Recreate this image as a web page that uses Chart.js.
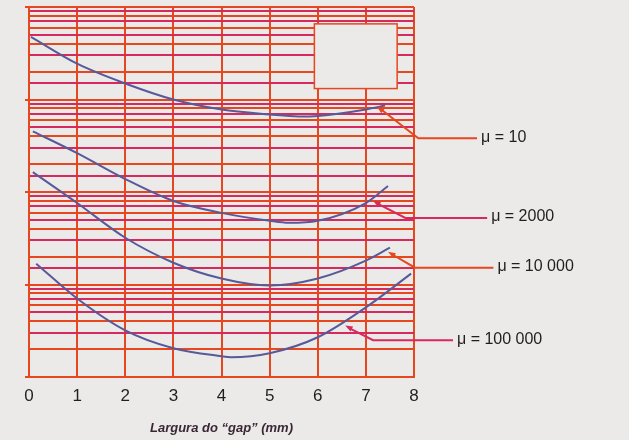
<!DOCTYPE html>
<html>
<head>
<meta charset="utf-8">
<script src="https://cdn.jsdelivr.net/npm/chart.js@4"></script>
<style>
  html, body { margin: 0; padding: 0; background: #ebeae8; }
  #wrap { width: 629px; height: 440px; }
</style>
</head>
<body>
<div id="wrap"><canvas id="gapChart" width="629" height="440"></canvas></div>
<script>
// x ticks (gap width, mm)
var xTicks = [0, 1, 2, 3, 4, 5, 6, 7, 8];

// curves (y is log scale, no labels)
var gap10 = [0.04, 1, 2, 3, 4, 5, 5.6, 6, 7, 7.4];
var mu10 = [4760, 2440, 1490, 1000, 780, 690, 656, 665, 780, 862];

var gap2000 = [0.08, 1, 2, 3, 4, 5, 5.4, 6, 7, 7.46];
var mu2000 = [453, 263, 138, 80, 59.5, 48.8, 46.4, 48.8, 76, 116];

var gap10k = [0.08, 1, 2, 3, 4, 5, 6, 7, 7.5];
var mu10k = [164, 76, 32, 17.2, 11.6, 9.76, 11.6, 18.1, 25];

var gap100k = [0.15, 1, 2, 3, 4, 4.2, 5, 6, 7, 7.94];
var mu100k = [16.8, 7.07, 3.2, 2.05, 1.68, 1.64, 1.81, 2.69, 5.66, 13.1];

// callout labels: text, arrow tip on curve, elbow, end of the line
var calloutText = ['\u03bc = 10', '\u03bc = 2000', '\u03bc = 10 000', '\u03bc = 100 000'];
var calloutTipX = [7.23, 7.15, 7.46, 6.57];
var calloutTipY = [841, 80, 22.6, 3.6];
var calloutElbowX = [8.09, 7.82, 8.02, 7.15];
var calloutElbowY = [381, 52.5, 15.2, 2.5];
var calloutEndX = [9.31, 9.52, 9.65, 8.81];

function pts(xs, ys) {
  return xs.map(function (x, i) { return { x: x, y: ys[i] }; });
}

var MAGENTA = '#d62a5e';
var ORANGE = '#e6471f';
var CURVE = '#575a9a';

var extras = {
  id: 'extras',
  beforeDraw: function (chart) {
    var c = chart.ctx;
    c.save();
    c.fillStyle = '#ebeae8';
    c.fillRect(0, 0, chart.width, chart.height);
    c.restore();
  },
  beforeDatasetsDraw: function (chart) {
    // blank inset box at the top right of the grid
    var c = chart.ctx, xs = chart.scales.x, ys = chart.scales.y;
    var x0 = xs.getPixelForValue(5.93), x1 = xs.getPixelForValue(7.65);
    var y0 = ys.getPixelForValue(6570), y1 = ys.getPixelForValue(1313);
    c.save();
    c.fillStyle = '#eceae9';
    c.fillRect(x0, y0, x1 - x0, y1 - y0);
    c.strokeStyle = ORANGE;
    c.lineWidth = 1.5;
    c.strokeRect(x0, y0, x1 - x0, y1 - y0);
    c.restore();
  },
  afterDatasetsDraw: function (chart) {
    var c = chart.ctx, xs = chart.scales.x, ys = chart.scales.y;
    c.save();
    c.font = '16px "Liberation Sans", Arial, sans-serif';
    c.textBaseline = 'middle';
    for (var i = 0; i < calloutText.length; i++) {
      var tx = xs.getPixelForValue(calloutTipX[i]);
      var ty = ys.getPixelForValue(calloutTipY[i]);
      var ex = xs.getPixelForValue(calloutElbowX[i]);
      var ey = ys.getPixelForValue(calloutElbowY[i]);
      var lx = xs.getPixelForValue(calloutEndX[i]);
      c.strokeStyle = i % 2 ? MAGENTA : ORANGE;
      c.lineWidth = 2;
      c.beginPath();
      c.moveTo(tx + 3, ty + 2);
      c.lineTo(ex, ey);
      c.lineTo(lx, ey);
      c.stroke();
      // small arrow head
      var a = Math.atan2(ey - ty, ex - tx);
      c.fillStyle = c.strokeStyle;
      c.beginPath();
      c.moveTo(tx, ty);
      c.lineTo(tx + 8 * Math.cos(a - 0.35), ty + 8 * Math.sin(a - 0.35));
      c.lineTo(tx + 8 * Math.cos(a + 0.35), ty + 8 * Math.sin(a + 0.35));
      c.closePath();
      c.fill();
      c.fillStyle = '#221e1e';
      c.fillText(calloutText[i], lx + 4, ey - 1);
    }
    c.restore();
  }
};

function curve(data) {
  return {
    data: data,
    borderColor: CURVE,
    borderWidth: 2,
    pointRadius: 0,
    fill: false,
    cubicInterpolationMode: 'monotone'
  };
}

new Chart(document.getElementById('gapChart').getContext('2d'), {
  type: 'line',
  data: {
    datasets: [
      curve(pts(gap10, mu10)),
      curve(pts(gap2000, mu2000)),
      curve(pts(gap10k, mu10k)),
      curve(pts(gap100k, mu100k))
    ]
  },
  options: {
    responsive: false,
    animation: false,
    layout: { padding: { left: 0, top: 7, right: 215, bottom: 0 } },
    plugins: { legend: { display: false }, tooltip: { enabled: false } },
    scales: {
      x: {
        type: 'linear',
        min: 0,
        max: 8,
        afterBuildTicks: function (s) { s.ticks = xTicks.map(function (v) { return { value: v }; }); },
        afterFit: function (s) { s.height = 63; },
        grid: { color: ORANGE, lineWidth: 2, drawTicks: false },
        border: { color: ORANGE, width: 2 },
        ticks: {
          padding: 9,
          color: '#221e1e',
          font: { family: '"Liberation Sans", Arial, sans-serif', size: 17 }
        },
        title: {
          display: true,
          text: 'Largura do \u201cgap\u201d (mm)',
          color: '#3a2736',
          padding: { top: 0, bottom: 4 },
          font: { family: '"Liberation Sans", Arial, sans-serif', size: 13, weight: 'bold', style: 'italic' }
        }
      },
      y: {
        type: 'logarithmic',
        min: 1,
        max: 10000,
        afterFit: function (s) { s.width = 29; },
        grid: {
          lineWidth: 2,
          tickLength: 4,
          color: function (ctx) { return ctx.index % 2 ? ORANGE : MAGENTA; },
          tickColor: function (ctx) {
            var v = ctx.tick ? ctx.tick.value : 0;
            var l = Math.log10(v);
            return Math.abs(l - Math.round(l)) < 1e-6 ? ORANGE : 'rgba(0,0,0,0)';
          }
        },
        border: { color: ORANGE, width: 2 },
        ticks: { display: false }
      }
    }
  },
  plugins: [extras]
});
</script>
</body>
</html>
